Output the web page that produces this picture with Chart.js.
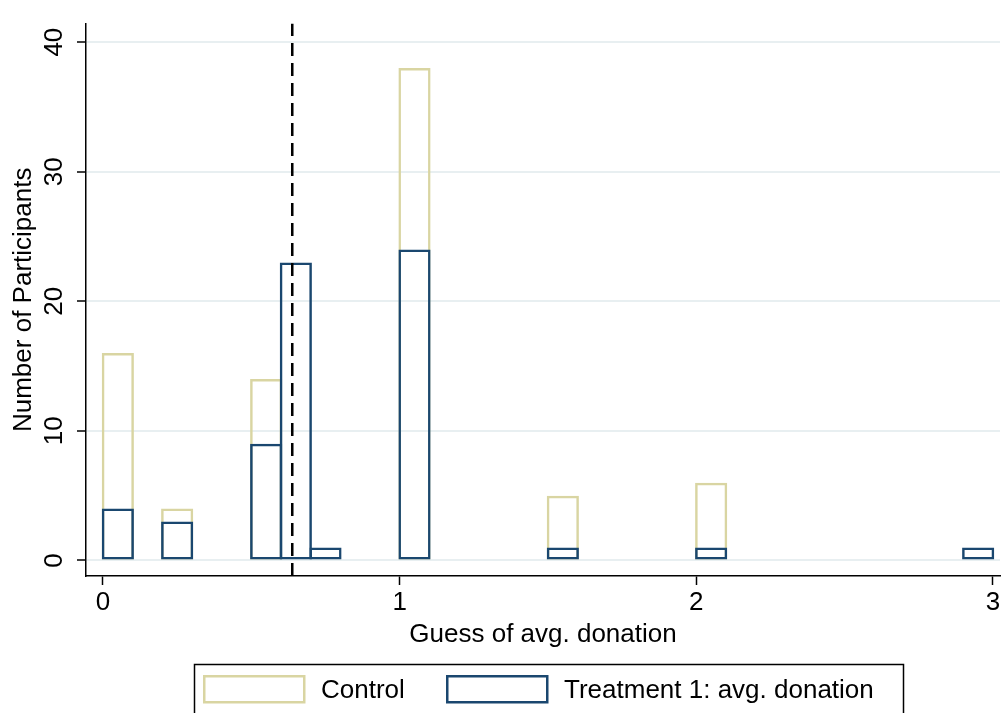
<!DOCTYPE html>
<html>
<head>
<meta charset="utf-8">
<script src="https://cdn.jsdelivr.net/npm/chart.js@4"></script>
<style>
  html, body { margin: 0; padding: 0; background: #fff; overflow: hidden; }
  #wrap { width: 1003px; height: 713px; position: relative; }
</style>
</head>
<body>
<div id="wrap"><canvas id="histChart"></canvas></div>
<script>
// bin centres (bin width 0.1) and counts
const controlBins = [0.05, 0.25, 0.55, 1.05, 1.55, 2.05];
const controlCounts = [16, 4, 14, 38, 5, 6];
const treatmentBins = [0.05, 0.25, 0.55, 0.65, 0.75, 1.05, 1.55, 2.05, 2.95];
const treatmentCounts = [4, 3, 9, 23, 1, 24, 1, 1, 1];
const meanGuess = 0.638;

const xTicks = [0, 1, 2, 3];
const yTicks = [0, 10, 20, 30, 40];
const seriesLabels = ['Control', 'Treatment 1: avg. donation'];

const X_MIN = -0.0573, X_MAX = 3.0236;
const Y_MIN = -1.2, Y_MAX = 41.43;

const KHAKI = '#d9d5a2';
const NAVY = '#1a476f';
const FONT = '"Liberation Sans", Arial, Helvetica, sans-serif';

Chart.defaults.font.family = FONT;
Chart.defaults.color = '#000';

function toPoints(xs, ys) {
    return xs.map((x, i) => ({ x: x, y: ys[i] }));
}

// Stata-like framed legend under the plot
const framedLegend = {
    id: 'framedLegend',
    afterDraw(chart) {
        const ctx = chart.ctx;
        ctx.save();
        ctx.strokeStyle = '#000';
        ctx.lineWidth = 1.5;
        ctx.strokeRect(194.5, 664.5, 709, 70);

        const items = [
            { color: KHAKI, label: seriesLabels[0], boxX: 204, textX: 321 },
            { color: NAVY, label: seriesLabels[1], boxX: 447, textX: 564 }
        ];
        ctx.font = '26px ' + FONT;
        ctx.textBaseline = 'middle';
        ctx.textAlign = 'left';
        items.forEach(it => {
            ctx.strokeStyle = it.color;
            ctx.lineWidth = 2.5;
            ctx.strokeRect(it.boxX + 0.25, 676.25, 100, 26);
            ctx.fillStyle = '#000';
            ctx.fillText(it.label, it.textX, 691);
        });
        ctx.restore();
    }
};

// slightly wider than the bin so the outline sits on the bin edges
const barStyle = {
    backgroundColor: 'rgba(0,0,0,0)',
    borderWidth: 2.5,
    borderSkipped: false,
    inflateAmount: 0,
    grouped: false,
    barPercentage: 1.084,
    categoryPercentage: 1
};

const ctx = document.getElementById('histChart').getContext('2d');
const chart = new Chart(ctx, {
    type: 'bar',
    data: {
        datasets: [
            {
                type: 'line',
                label: 'mean',
                data: [{ x: meanGuess, y: Y_MIN }, { x: meanGuess, y: Y_MAX }],
                borderColor: '#000',
                borderWidth: 2.5,
                borderDash: [13, 7],
                pointRadius: 0,
                order: 0
            },
            Object.assign({
                label: seriesLabels[1],
                data: toPoints(treatmentBins, treatmentCounts),
                borderColor: NAVY,
                order: 1
            }, barStyle),
            Object.assign({
                label: seriesLabels[0],
                data: toPoints(controlBins, controlCounts),
                borderColor: KHAKI,
                order: 2
            }, barStyle)
        ]
    },
    options: {
        responsive: true,
        maintainAspectRatio: false,
        animation: false,
        layout: { padding: { top: 8, right: 3, bottom: 0, left: 0 } },
        plugins: {
            legend: { display: false },
            tooltip: { enabled: false }
        },
        scales: {
            x: {
                type: 'linear',
                min: X_MIN,
                max: X_MAX,
                offset: false,
                afterBuildTicks: s => { s.ticks = xTicks.map(v => ({ value: v })); },
                afterFit: s => { s.height = 137; },
                ticks: { font: { size: 26 }, padding: 2, color: '#000' },
                grid: {
                    offset: false,
                    drawOnChartArea: false,
                    tickLength: 9,
                    tickColor: '#000',
                    tickWidth: 1.5
                },
                border: { color: '#000', width: 1.5 },
                title: {
                    display: true,
                    text: 'Guess of avg. donation',
                    font: { size: 26 },
                    color: '#000',
                    padding: { top: 0, bottom: 63 }
                }
            },
            y: {
                type: 'linear',
                min: Y_MIN,
                max: Y_MAX,
                afterBuildTicks: s => { s.ticks = yTicks.map(v => ({ value: v })); },
                afterFit: s => { s.width = 86; },
                ticks: {
                    font: { size: 26 },
                    color: '#000',
                    minRotation: 90,
                    maxRotation: 90,
                    crossAlign: 'center',
                    padding: 8
                },
                grid: {
                    color: '#e8eff1',
                    lineWidth: 2,
                    tickLength: 9,
                    tickColor: '#000',
                    tickWidth: 1.5
                },
                border: { color: '#000', width: 1.5 },
                title: {
                    display: true,
                    text: 'Number of Participants',
                    font: { size: 26 },
                    color: '#000',
                    padding: { top: 8, bottom: 0 }
                }
            }
        }
    },
    plugins: [framedLegend]
});
</script>
</body>
</html>
